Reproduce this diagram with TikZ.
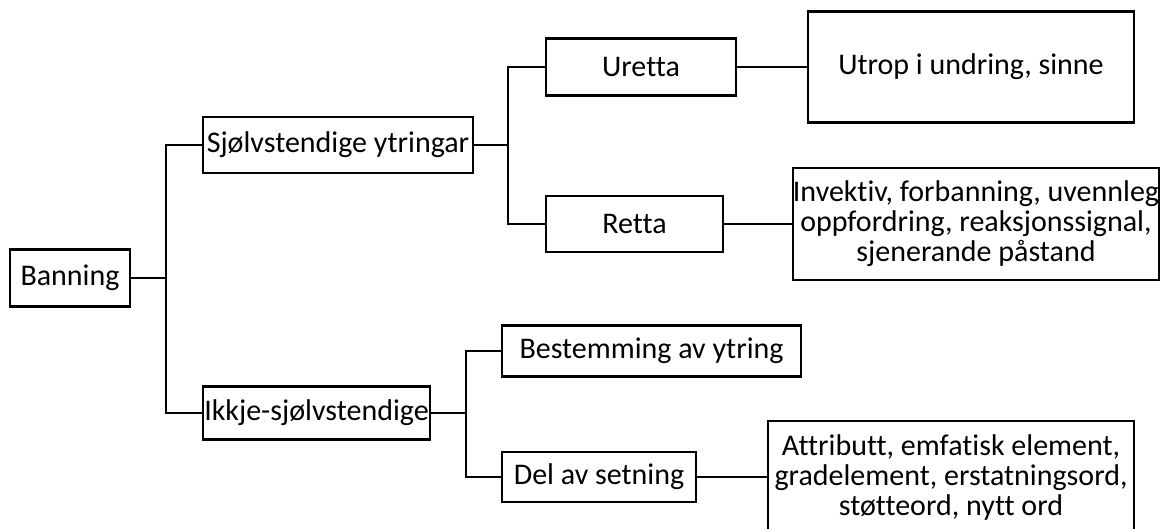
\documentclass[tikz,border=0pt]{standalone}
\usepackage{fontspec}
\setmainfont{Carlito}[Ligatures=NoCommon]

\begin{document}
\begin{tikzpicture}[x=1pt, y=-1pt,
  termbox/.style={draw, line width=2.7pt, inner sep=0pt, align=center,
    font=\fontsize{30}{30}\selectfont},
  link/.style={line width=2.7pt}]
  \useasboundingbox (0,0) rectangle (1166,528);
  % root and first level
  \node[termbox, minimum width=120, minimum height=57] (ban) at (70,278) {Banning};
  \node[termbox, minimum width=270, minimum height=56] (sjolv) at (338,145) {Sjølvstendige ytringar};
  \node[termbox, minimum width=227, minimum height=53] (ikkje) at (316.5,413) {Ikkje-sjølvstendige};
  % second level
  \node[termbox, minimum width=190, minimum height=57] (uretta) at (641,67) {Uretta};
  \node[termbox, minimum width=177, minimum height=56] (retta) at (634.5,224) {Retta};
  \node[termbox, minimum width=299, minimum height=51] (bestem) at (651.5,351) {Bestemming av ytring};
  \node[termbox, minimum width=194, minimum height=50] (del) at (599,477) {Del av setning};
  % leaves
  \node[termbox, minimum width=326, minimum height=111] (utrop) at (971,67) {Utrop i undring, sinne};
  \node[termbox, minimum width=362, minimum height=112] (invektiv) at (976,224)
    {Invektiv, forbanning, uvennleg\\oppfordring, reaksjonssignal,\\sjenerande påstand};
  \node[termbox, minimum width=366, minimum height=112] (attr) at (951,477)
    {Attributt, emfatisk element,\\gradelement, erstatningsord,\\støtteord, nytt ord};
  % branch points
  \coordinate (j1) at (166,278);
  \coordinate (j2) at (508,145);
  \coordinate (j3) at (466,413);
  \draw[link] (ban) -- (j1);
  \draw[link] (sjolv.west) -| (j1) |- (ikkje.west);
  \draw[link] (sjolv) -- (j2);
  \draw[link] (uretta.west) -| (j2) |- (retta.west);
  \draw[link] (ikkje) -- (j3);
  \draw[link] (bestem.west) -| (j3) |- (del.west);
  \draw[link] (uretta) -- (utrop);
  \draw[link] (retta) -- (invektiv);
  \draw[link] (del) -- (attr);
\end{tikzpicture}
\end{document}
